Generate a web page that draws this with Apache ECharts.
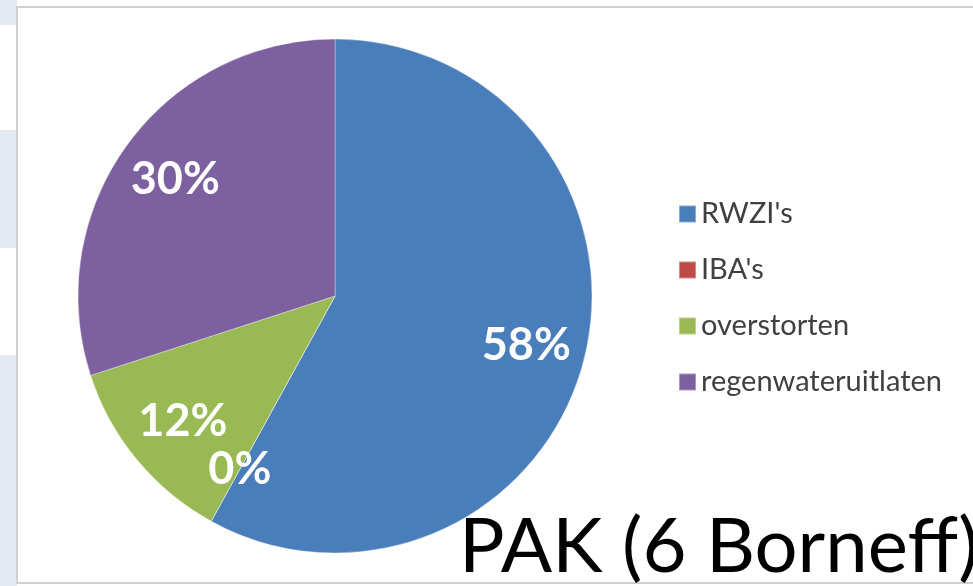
<!DOCTYPE html>
<html lang="nl">
<head>
    <meta charset="UTF-8">
    <title>PAK (6 Borneff)</title>
    <style>
        html, body { margin: 0; padding: 0; background: #ffffff; }
        #main { width: 973px; height: 586px; }
    </style>
</head>
<body>
<script src="https://cdn.jsdelivr.net/npm/echarts@6/dist/echarts.min.js"></script>
<div id="main"></div>

<script>
    var myChart = echarts.init(document.getElementById('main'));

    // data
    var categories = ["RWZI's", "IBA's", "overstorten", "regenwateruitlaten"];
    var shares = [58, 0, 12, 30];
    var colors = ['#4a7ebb', '#be4b48', '#98b954', '#7d60a0'];
    var caption = 'PAK (6 Borneff)';

    var pieData = [];
    for (var i = 0; i < categories.length; i++) {
        pieData.push({ name: categories[i], value: shares[i] });
    }

    // left strip bands behind the panel
    var bands = [[0, 25, '#e3eaf1'], [25, 105, '#ffffff'], [130, 118, '#e3eaf1'], [248, 107, '#ffffff'], [355, 231, '#e3eaf1']];
    var graphics = [];
    bands.forEach(function (b) {
        graphics.push({ type: 'rect', z: -10, shape: { x: 0, y: b[0], width: 17, height: b[1] }, style: { fill: b[2] } });
    });
    graphics.push({
        type: 'rect', z: -5,
        shape: { x: 17, y: 7, width: 970, height: 576 },
        style: { fill: '#ffffff', stroke: '#cfcfcf', lineWidth: 2 }
    });
    graphics.push({
        type: 'text', z: 10, left: 459, top: 509,
        style: { text: caption, font: '76px Lato', fill: '#000000' }
    });

    var option = {
        animation: false,
        color: colors,
        graphic: graphics,
        legend: {
            orient: 'vertical',
            left: 673,
            top: 194,
            icon: 'rect',
            itemWidth: 17,
            itemHeight: 17,
            itemGap: 26,
            selectedMode: false,
            data: categories,
            textStyle: { fontFamily: 'Lato', fontSize: 29, lineHeight: 30, color: '#404040', padding: [0, 0, 0, 0] }
        },
        series: [{
            type: 'pie',
            center: [335, 296],
            radius: [0, 257],
            startAngle: 90,
            clockwise: true,
            silent: true,
            avoidLabelOverlap: false,
            label: { show: false },
            labelLine: { show: false },
            itemStyle: { borderColor: 'rgba(255,255,255,0.35)', borderWidth: 1 },
            data: pieData
        }, {
            // transparent ring only used to place the percentage labels
            type: 'pie',
            center: [335, 296],
            radius: [132, 257],
            startAngle: 90,
            clockwise: true,
            silent: true,
            avoidLabelOverlap: false,
            itemStyle: { color: 'rgba(0,0,0,0)', borderWidth: 0 },
            label: {
                show: true,
                position: 'inside',
                formatter: '{d}%',
                fontFamily: 'Lato',
                fontWeight: 'bold',
                fontSize: 45,
                color: '#ffffff'
            },
            labelLine: { show: false },
            data: pieData
        }]
    };

    myChart.setOption(option);
</script>
</body>
</html>
